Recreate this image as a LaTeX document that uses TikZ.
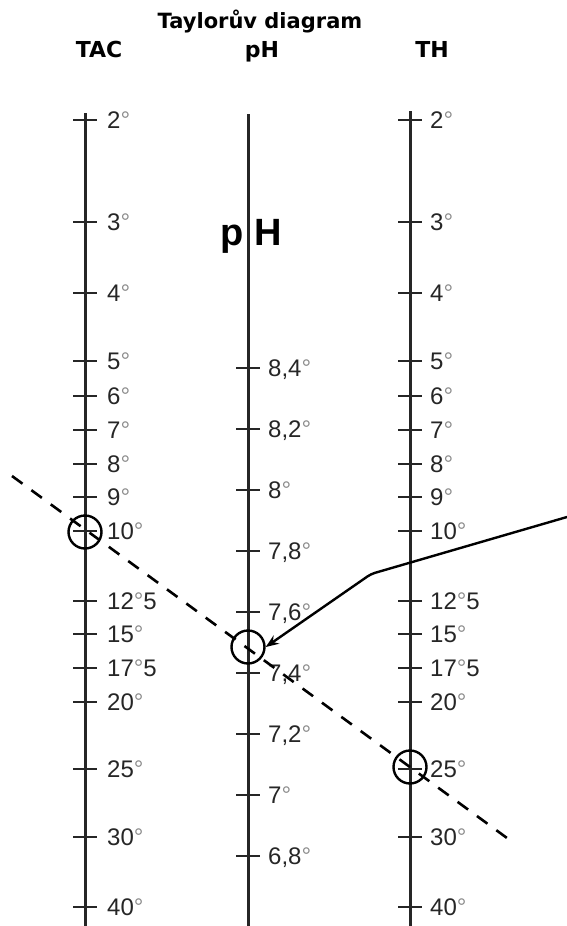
\documentclass[tikz,border=0pt]{standalone}
\usepackage{fontspec}
\setmainfont{Liberation Sans}
\newfontfamily\headfont{DejaVu Sans}
\usetikzlibrary{arrows.meta,positioning}
\tikzset{
  axisline/.style={draw=black!85, line width=3pt},
  tickmark/.style={draw=black!85, line width=2pt},
  val/.style={anchor=base west, inner sep=0pt, text=black!85,
    font=\fontsize{24}{28}\selectfont},
  head/.style={anchor=base, inner sep=0pt, font=\headfont\bfseries\fontsize{22}{26}\selectfont},
  bigph/.style={inner sep=0pt, font=\bfseries\fontsize{38}{44}\selectfont},
  ring/.style={draw=black, line width=2.4pt, circle, minimum size=33pt, inner sep=0pt},
  guide/.style={draw=black, line width=2.6pt, dash pattern=on 13pt off 11pt},
  arr/.style={-{Stealth[length=13pt,width=10pt]}, line width=2.4pt, rounded corners=4pt}
}
\newcommand\dg{\textcolor{black!45}{°}}

\begin{document}
\begin{tikzpicture}[x=1pt,y=-1pt]
  \useasboundingbox (0,0) rectangle (567,926);

  % headings
  \node[head, font=\headfont\bfseries\fontsize{21}{25}\selectfont] (title) at (260,28) {Taylorův diagram};
  \node[head] (htac) at (99,57) {TAC};
  \node[head] (hph) at (262,57) {pH};
  \node[head] (hth) at (432,57) {TH};

  % the three scales
  \coordinate (tactop) at (85,113);  \coordinate (tacbot) at (85,926);
  \coordinate (phtop) at (248,114);  \coordinate (phbot) at (248,926);
  \coordinate (thtop) at (410,111);  \coordinate (thbot) at (410,926);
  \draw[axisline] (tactop) -- (tacbot);
  \draw[axisline] (phtop) -- (phbot);
  \draw[axisline] (thtop) -- (thbot);

  \node[bigph, anchor=base east] (bigp) at (244,245) {p};
  \node[bigph, anchor=base west] (bigh) at (254,245) {H};

  % TAC and TH share one scale
  \foreach \y/\t [count=\i] in {120/2\dg, 222/3\dg, 293/4\dg, 361/5\dg, 396/6\dg,
      430/7\dg, 464/8\dg, 497/9\dg, 531/10\dg, 601/12\dg5, 634/15\dg,
      668/17\dg5, 702/20\dg, 769/25\dg, 837/30\dg, 907/40\dg} {
    \draw[tickmark] (73,\y) -- (97,\y);
    \node[val] (tac\i) at (107,\y+8.5) {\t};
    \draw[tickmark] (398,\y) -- (422,\y);
    \node[val] (th\i) at (430,\y+8.5) {\t};
  }

  % pH scale
  \foreach \y/\t [count=\i] in {368/{8,4\dg}, 429/{8,2\dg}, 490/8\dg, 551/{7,8\dg},
      612/{7,6\dg}, 673/{7,4\dg}, 734/{7,2\dg}, 795/7\dg, 856/{6,8\dg}} {
    \draw[tickmark] (236,\y) -- (260,\y);
    \node[val] (ph\i) at (268,\y+8.5) {\t};
  }

  % reading line
  \coordinate (gstart) at (12,476);
  \coordinate (gend) at (507,838);
  \draw[guide] (gstart) -- (gend);

  \node[ring] (tacpt) at (85,532) {};
  \node[ring] (phpt) at (248,647) {};
  \node[ring] (thpt) at (410,767) {};

  % pointer to the pH value
  \coordinate (pin) at (567,517);
  \coordinate (pknee) at (371,574);
  \draw[arr] (pin) -- (pknee) -- (phpt.east);
\end{tikzpicture}
\end{document}
